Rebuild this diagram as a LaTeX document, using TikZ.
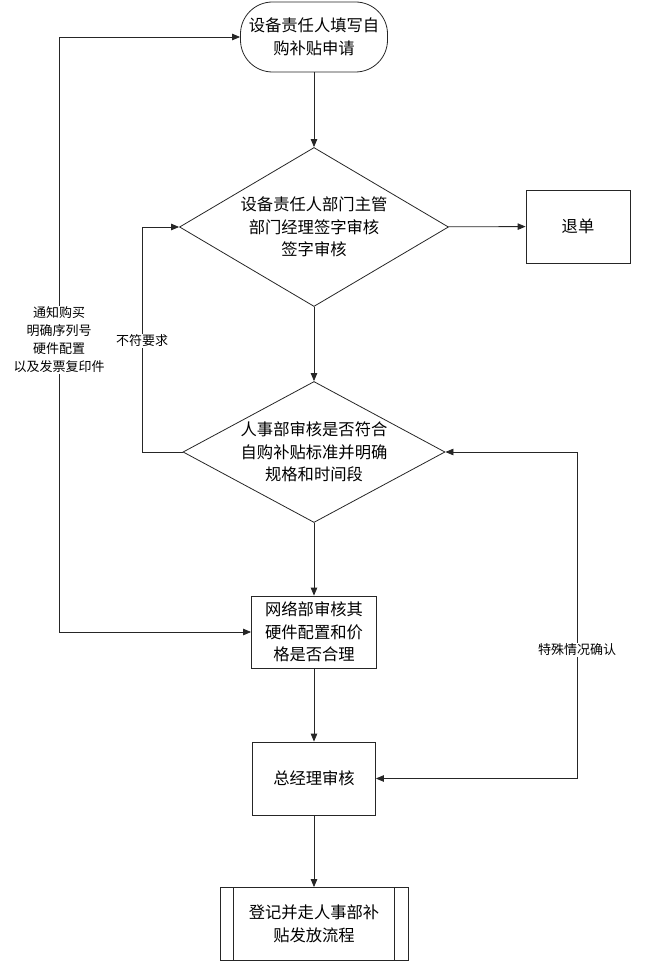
\documentclass[tikz,border=0pt]{standalone}
\usepackage{fontspec}
\setmainfont{Noto Sans CJK SC}
\usetikzlibrary{shapes.geometric,arrows.meta}
\begin{document}
\begin{tikzpicture}[x=1pt,y=-1pt,
  line/.style={draw=black!85,line width=0.8pt},
  arr/.style={line,-{Triangle[length=8pt,width=6.5pt]}},
  darr/.style={line,{Triangle[length=8pt,width=6.5pt]}-{Triangle[length=8pt,width=6.5pt]}},
  txt/.style={font=\fontsize{16.3}{22.5}\selectfont,align=center},
  boxst/.style={line,txt,rectangle,inner sep=0pt},
  termst/.style={boxst,rounded corners=32pt},
  decst/.style={line,txt,diamond,inner sep=0pt},
  lbl/.style={font=\fontsize{13}{18}\selectfont,align=center,fill=white,inner sep=1pt}]
\useasboundingbox (0,0) rectangle (651,965);
\node[termst,minimum width=147pt,minimum height=70pt] (start) at (314,37) {设备责任人填写自\\购补贴申请};
\node[decst,minimum width=269pt,minimum height=159pt,aspect=1.69] (d1) at (314,227) {设备责任人部门主管\\部门经理签字审核\\签字审核};
\node[boxst,minimum width=104pt,minimum height=73pt] (tui) at (578,226.5) {退单};
\node[decst,minimum width=262pt,minimum height=141pt,aspect=1.86] (d2) at (314,452) {人事部审核是否符合\\自购补贴标准并明确\\规格和时间段};
\node[boxst,minimum width=125pt,minimum height=72pt] (net) at (314,632) {网络部审核其\\硬件配置和价\\格是否合理};
\node[boxst,minimum width=123pt,minimum height=73pt] (gm) at (314,778.5) {总经理审核};
\node[boxst,minimum width=188pt,minimum height=73pt] (reg) at (314,924) {登记并走人事部补\\贴发放流程};
\draw[line] ([xshift=14pt]reg.north west) -- ([xshift=14pt]reg.south west);
\draw[line] ([xshift=-14pt]reg.north east) -- ([xshift=-14pt]reg.south east);
% main flow
\draw[arr] (start) -- (d1);
\draw[arr] (d1) -- (tui);
\draw[arr] (d1) -- (d2);
\draw[arr] (d2) -- (net);
\draw[arr] (net) -- (gm);
\draw[arr] (gm) -- (reg);
% loops
\coordinate (nl) at (142,452);
\coordinate (ll) at (59,632);
\coordinate (rl) at (577,778.5);
\draw[arr] (d2.west) -- (nl) |- (d1.west);
\draw[darr] (start.west) -| (ll) -- (net.west);
\draw[darr] (d2.east) -| (rl) -- (gm.east);
\node[lbl] (l1) at (142,341) {不符要求};
\node[lbl] (l2) at (59,340) {通知购买\\明确序列号\\硬件配置\\以及发票复印件};
\node[lbl] (l3) at (577,650) {特殊情况确认};
\end{tikzpicture}
\end{document}
